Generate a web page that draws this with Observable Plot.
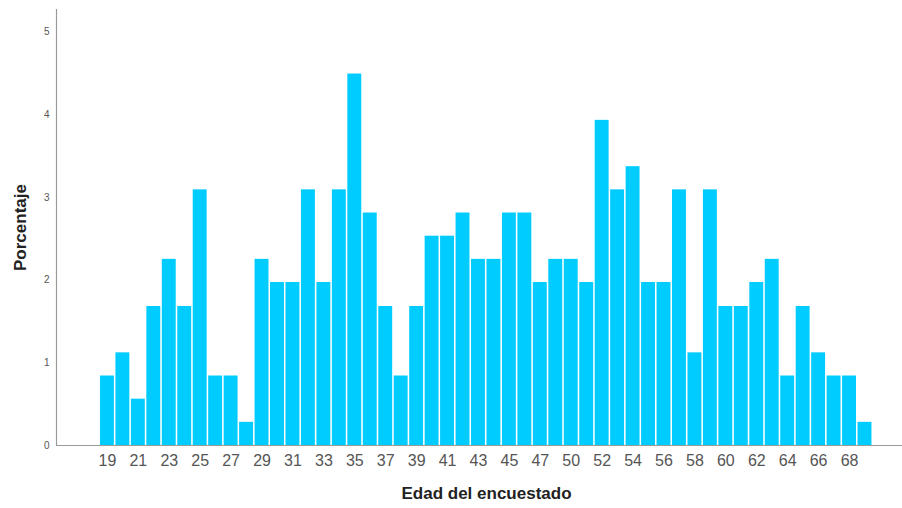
<!DOCTYPE html>
<html>
<head>
<meta charset="utf-8">
<script src="https://cdn.jsdelivr.net/npm/d3@7"></script>
<script src="https://cdn.jsdelivr.net/npm/@observablehq/plot@0.6"></script>
<style>
  html, body { margin: 0; padding: 0; background: #fff; }
  #chart svg { display: block; font-family: "Liberation Sans", Arial, sans-serif; }
</style>
</head>
<body>
<div id="chart"></div>
<script>
const ages = [19,20,21,22,23,24,25,26,27,28,29,30,31,32,33,34,35,36,37,38,39,40,41,42,43,44,45,46,47,48,50,51,52,53,54,55,56,57,58,59,60,61,62,63,64,65,66,67,68,69];
const percents = [0.84,1.12,0.56,1.68,2.25,1.68,3.09,0.84,0.84,0.28,2.25,1.97,1.97,3.09,1.97,3.09,4.49,2.81,1.68,0.84,1.68,2.53,2.53,2.81,2.25,2.25,2.81,2.81,1.97,2.25,2.25,1.97,3.93,3.09,3.37,1.97,1.97,3.09,1.12,3.09,1.68,1.68,1.97,2.25,0.84,1.68,1.12,0.84,0.84,0.28];
const xTickLabels = [19,21,23,25,27,29,31,33,35,37,39,41,43,45,47,50,52,54,56,58,60,62,64,66,68];
const yTicks = [0,1,2,3,4,5];
const xTitle = "Edad del encuestado";
const yTitle = "Porcentaje";

const data = ages.map((a, i) => ({age: a, pct: percents[i]}));

const chart = Plot.plot({
  width: 902,
  height: 508,
  marginLeft: 56,
  marginRight: 0,
  marginTop: 9,
  marginBottom: 63,
  style: {fontFamily: '"Liberation Sans", Arial, sans-serif', background: "#fff"},
  x: {type: "band", domain: ages, paddingInner: 0.1, paddingOuter: 2.41, align: 0.59, round: false},
  y: {domain: [0, 5.27]},
  marks: [
    Plot.barY(data, {x: "age", y: "pct", fill: "#00ccff"}),
    Plot.ruleY([0], {stroke: "#9a9a9a", strokeWidth: 1.2}),
    Plot.frame({anchor: "left", stroke: "#9a9a9a", strokeWidth: 1.2}),
    Plot.axisY({ticks: yTicks, tickFormat: "d", tickSize: 0, tickPadding: 7, fontSize: 10, color: "#555", label: null}),
    Plot.axisX({ticks: xTickLabels, tickSize: 0, tickPadding: 9, fontSize: 16, color: "#555", label: null}),
    Plot.text([yTitle], {frameAnchor: "left", textAnchor: "middle", dx: -36, rotate: -90, fontWeight: "bold", fontSize: 17, fill: "#222"}),
    Plot.text([xTitle], {frameAnchor: "bottom", textAnchor: "middle", dy: 53, dx: 7, fontWeight: "bold", fontSize: 17, fill: "#222"})
  ]
});
document.getElementById("chart").appendChild(chart);
</script>
</body>
</html>
